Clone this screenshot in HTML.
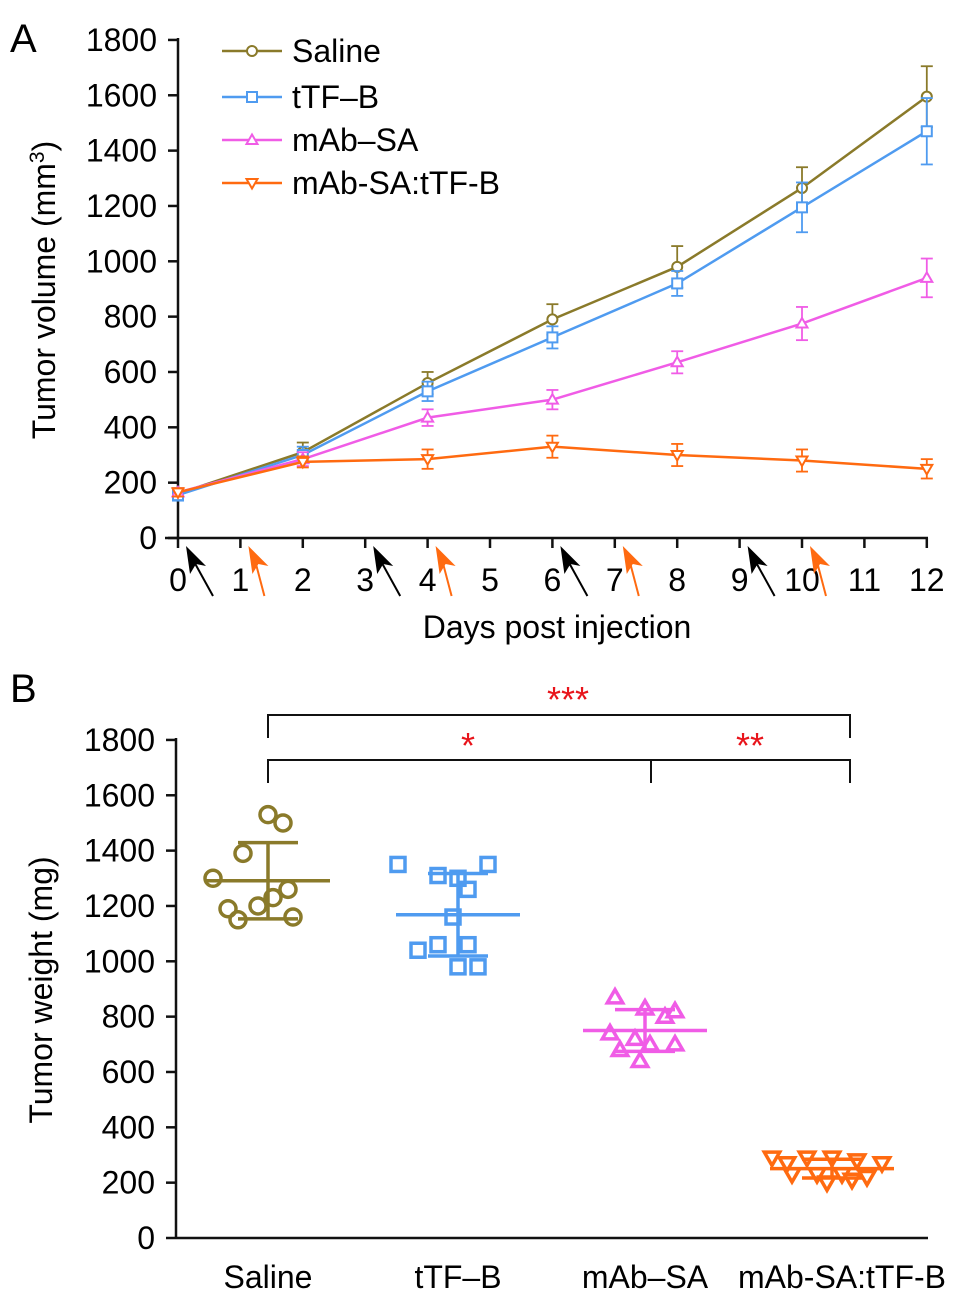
<!DOCTYPE html>
<html><head><meta charset="utf-8"><style>
body{margin:0;background:#fff}
svg text{font-family:"Liberation Sans",Arial,sans-serif;fill:#000}
</style></head><body>
<svg id="c" width="969" height="1302" viewBox="0 0 969 1302"></svg>
<script>
const days=[0,2,4,6,8,10,12];
const seriesNames=["Saline","tTF\u2013B","mAb\u2013SA","mAb-SA:tTF-B"];
const salineMean=[160,310,560,790,980,1265,1595];
const salineErr=[20,35,40,55,75,75,110];
const ttfMean=[155,300,530,725,920,1195,1470];
const ttfErr=[20,30,35,40,45,90,120];
const mabMean=[165,285,435,500,635,775,940];
const mabErr=[15,25,30,35,40,60,70];
const comboMean=[165,275,285,330,300,280,250];
const comboErr=[15,20,35,40,40,40,35];
const yTicks=[0,200,400,600,800,1000,1200,1400,1600,1800];
const xTicks=[0,1,2,3,4,5,6,7,8,9,10,11,12];
const blackArrowDays=[0,3,6,9];
const orangeArrowDays=[1,4,7,10];
const wSaline=[1530,1500,1390,1260,1300,1230,1190,1160,1200,1150];
const wTtf=[1350,1350,1310,1300,1260,1160,1060,1060,1040,980,980];
const wMab=[870,830,820,800,740,720,700,700,680,640];
const wCombo=[290,290,290,280,270,230,230,230,220,200,210,270];
const colors=["#8a7a2a","#4f9bf0","#f05ce6","#ff6a10"];
const NS="http://www.w3.org/2000/svg";
const svg=document.getElementById('c');
function el(t,a,p){const e=document.createElementNS(NS,t);for(const k in a)e.setAttribute(k,a[k]);(p||svg).appendChild(e);return e;}
function txt(s,a,p){const e=el('text',a,p);e.textContent=s;return e;}
const xA=d=>178+d*62.4, yA=v=>538-v*0.2767;
const yB=v=>1238-v*0.2767;
const catX=[268,458,645,832];
const FS=32;
function marker(type,x,y,c,r,sw,g){
 if(type==0)return el('circle',{cx:x,cy:y,r:r,fill:'#fff',stroke:c,'stroke-width':sw},g);
 if(type==1)return el('rect',{x:x-r,y:y-r,width:2*r,height:2*r,fill:'#fff',stroke:c,'stroke-width':sw},g);
 if(type==2)return el('polygon',{points:`${x},${y-r*1.1} ${x-r*1.1},${y+r*0.8} ${x+r*1.1},${y+r*0.8}`,fill:'#fff',stroke:c,'stroke-width':sw},g);
 return el('polygon',{points:`${x},${y+r*1.1} ${x-r*1.1},${y-r*0.8} ${x+r*1.1},${y-r*0.8}`,fill:'#fff',stroke:c,'stroke-width':sw},g);
}
// Panel A
txt('A',{x:10,y:52,'font-size':40});
const gA=el('g',{});
let ax=el('line',{x1:178,y1:38,x2:178,y2:538,stroke:'#111','stroke-width':2.5},gA);
ax=el('line',{x1:165,y1:538,x2:928,y2:538,stroke:'#111','stroke-width':2.5},gA);
yTicks.forEach(v=>{el('line',{x1:168,y1:yA(v),x2:178,y2:yA(v),stroke:'#111','stroke-width':2.5},gA);
 const t=txt(v,{x:157,y:yA(v)+11,'font-size':FS,'text-anchor':'end'},gA);});
xTicks.forEach(d=>{el('line',{x1:xA(d),y1:538,x2:xA(d),y2:548,stroke:'#111','stroke-width':2.5},gA);
 const t=txt(d,{x:xA(d),y:591,'font-size':FS,'text-anchor':'middle'},gA);});
function arrow(d,c,dx){const x0=xA(d)+8,y0=546,x1=xA(d)+dx,y1=596;
 const g=el('g',{},gA);
 el('line',{x1:x0+6,y1:y0+12,x2:x1,y2:y1,stroke:c,'stroke-width':2},g);
 el('polygon',{points:`${x0},${y0} ${x0+20},${y0+20} ${x0+10},${y0+18} ${x0+4},${y0+28}`,fill:c},g);}
blackArrowDays.forEach(d=>arrow(d,'#000',35));
orangeArrowDays.forEach(d=>arrow(d,'#ff6a10',24));
let t=txt('Days post injection',{x:557,y:638,'font-size':FS,'text-anchor':'middle'},gA);
t=txt('',{transform:'translate(55,290) rotate(-90)','font-size':FS,'text-anchor':'middle'},gA);
t.innerHTML='Tumor volume (mm<tspan dy="-11" font-size="21">3</tspan><tspan dy="11">)</tspan>';
const means=[salineMean,ttfMean,mabMean,comboMean],errs=[salineErr,ttfErr,mabErr,comboErr];
means.forEach((m,si)=>{const c=colors[si];const e=errs[si];const g=el('g',{},gA);
 days.forEach((d,i)=>{const x=xA(d);
  el('line',{x1:x,y1:yA(m[i]-e[i]),x2:x,y2:yA(m[i]+e[i]),stroke:c,'stroke-width':1.8},g);
  el('line',{x1:x-6,y1:yA(m[i]+e[i]),x2:x+6,y2:yA(m[i]+e[i]),stroke:c,'stroke-width':1.8},g);
  el('line',{x1:x-6,y1:yA(m[i]-e[i]),x2:x+6,y2:yA(m[i]-e[i]),stroke:c,'stroke-width':1.8},g);});
 el('polyline',{points:days.map((d,i)=>xA(d)+','+yA(m[i])).join(' '),fill:'none',stroke:c,'stroke-width':2.5},g);
 days.forEach((d,i)=>marker(si,xA(d),yA(m[i]),c,5,2,g));
});
const legY=[51,97,140,183];
seriesNames.forEach((n,i)=>{const g=el('g',{});
 el('line',{x1:222,y1:legY[i],x2:282,y2:legY[i],stroke:colors[i],'stroke-width':2.5},g);
 marker(i,252,legY[i],colors[i],5,2,g);
 txt(n,{x:292,y:legY[i]+11,'font-size':FS},g);});
// Panel B
txt('B',{x:10,y:702,'font-size':40});
const gB=el('g',{});
ax=el('line',{x1:176,y1:738,x2:176,y2:1238,stroke:'#111','stroke-width':2.5},gB);
ax=el('line',{x1:176,y1:1238,x2:928,y2:1238,stroke:'#111','stroke-width':2.5},gB);
yTicks.forEach(v=>{el('line',{x1:166,y1:yB(v),x2:176,y2:yB(v),stroke:'#111','stroke-width':2.5},gB);
 const t=txt(v,{x:155,y:yB(v)+11,'font-size':FS,'text-anchor':'end'},gB);});
seriesNames.forEach((n,i)=>{const t=txt(n,{x:catX[i]+(i==3?10:0),y:1288,'font-size':FS,'text-anchor':'middle'},gB);});
t=txt('Tumor weight (mg)',{transform:'translate(52,990) rotate(-90)','font-size':FS,'text-anchor':'middle'},gB);
const groups=[wSaline,wTtf,wMab,wCombo];
const offs=[[0,15,-25,20,-55,5,-40,25,-10,-30,40,-20],[-60,30,-20,0,10,-5,-20,10,-40,0,20,-30],[-30,0,30,20,-35,-10,30,5,-25,-5],[-60,-25,0,25,50,-40,-15,10,35,-5,20,-45]];
groups.forEach((vals,gi)=>{const c=colors[gi];const g=el('g',{},gB);
 const n=vals.length,mean=vals.reduce((a,b)=>a+b,0)/n;
 const sd=Math.sqrt(vals.reduce((a,b)=>a+(b-mean)**2,0)/(n-1));
 vals.forEach((v,i)=>{const r=gi==0?8:7;const mk=marker(gi,catX[gi]+offs[gi][i%offs[gi].length],yB(v),c,r,3.5,g);mk.setAttribute('fill','none');});
 el('line',{x1:catX[gi],y1:yB(mean+sd),x2:catX[gi],y2:yB(mean-sd),stroke:c,'stroke-width':3.5},g);
 el('line',{x1:catX[gi]-30,y1:yB(mean+sd),x2:catX[gi]+30,y2:yB(mean+sd),stroke:c,'stroke-width':3.5},g);
 el('line',{x1:catX[gi]-30,y1:yB(mean-sd),x2:catX[gi]+30,y2:yB(mean-sd),stroke:c,'stroke-width':3.5},g);
 el('line',{x1:catX[gi]-62,y1:yB(mean),x2:catX[gi]+62,y2:yB(mean),stroke:c,'stroke-width':3.5},g);
});
const br=el('g',{});
el('polyline',{points:'268,738 268,715 850,715 850,738',fill:'none',stroke:'#111','stroke-width':2},br);
el('polyline',{points:'268,783 268,760 850,760 850,783',fill:'none',stroke:'#111','stroke-width':2},br);
el('line',{x1:651,y1:760,x2:651,y2:783,stroke:'#111','stroke-width':2},br);
[['***',568,712],['*',468,758],['**',750,758]].forEach(s=>{const e=txt(s[0],{x:s[1],y:s[2],'font-size':36,'text-anchor':'middle'},br);e.style.fill='#e8141b';});
</script>
</body></html>
